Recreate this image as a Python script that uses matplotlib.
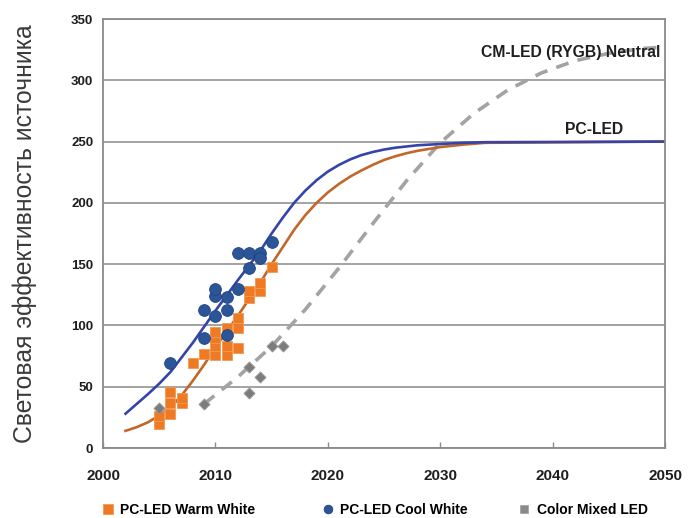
import matplotlib
matplotlib.use("Agg")
import matplotlib.pyplot as plt
from matplotlib.lines import Line2D

plt.rcParams['font.family'] = ['Liberation Sans', 'DejaVu Sans']

# measured points
warm_x = [2005, 2005, 2006, 2006, 2006, 2007, 2007, 2008, 2009, 2010, 2010, 2010,
          2010, 2011, 2011, 2011, 2012, 2012, 2012, 2013, 2013, 2014, 2014, 2015]
warm_y = [20, 26, 28, 37, 46, 37, 41, 69, 77, 76, 83, 90,
          95, 76, 83, 98, 82, 98, 106, 122, 128, 128, 135, 148]

cool_x = [2006, 2009, 2009, 2010, 2010, 2010, 2011, 2011, 2011, 2012, 2012,
          2013, 2013, 2014, 2014, 2015]
cool_y = [69, 90, 113, 108, 124, 130, 92, 113, 123, 130, 159,
          159, 147, 159, 155, 168]

mixed_x = [2005, 2009, 2013, 2013, 2014, 2015, 2016]
mixed_y = [33, 36, 45, 66, 58, 83, 83]

# trend lines
pc_years = [2002, 2003, 2004, 2005, 2006, 2007, 2008, 2009, 2010, 2011,
            2012, 2013, 2014, 2015, 2016, 2017, 2018, 2019, 2020, 2021,
            2022, 2023, 2024, 2025, 2026, 2027, 2028, 2030, 2032, 2034, 2050]
cool_trend = [28, 36, 44, 52.5, 62, 74, 86, 99, 112, 124.5,
              137, 149, 161, 175, 188, 200, 210, 218.5, 225.5, 231,
              235.5, 239, 241.5, 243.5, 245, 246, 247, 248, 249, 249.5, 250]
warm_trend = [14, 17, 21, 26.5, 33, 43, 55, 68, 82, 95,
              108, 121.5, 135, 150, 164, 178, 190, 200, 208.5, 215.5,
              221.5, 226.5, 231, 235, 238, 240.5, 242.5, 245.5, 247.5, 249, 250]

cm_years = [2009, 2012, 2015, 2018, 2021, 2024, 2027, 2030, 2033, 2036,
            2039, 2042, 2045, 2048, 2050]
cm_trend = [36, 58, 83, 113, 147, 183, 218, 249, 273, 292,
            306, 316, 322, 326, 327]

x_ticks = [2000, 2010, 2020, 2030, 2040, 2050]
y_ticks = [0, 50, 100, 150, 200, 250, 300, 350]

legend_labels = ['PC-LED Warm White', 'PC-LED Cool White', 'Color Mixed LED']

fig = plt.figure(figsize=(6.9, 5.18), dpi=100)
ax = fig.add_axes([0.1493, 0.1351, 0.8145, 0.8282])

grid_col = '#8a8a8a'
for v in y_ticks:
    ax.axhline(v, color=grid_col, lw=1.1, zorder=1)

ax.plot(cm_years, cm_trend, color='#a3a3a3', lw=2.6, dashes=(3.6, 2.6),
        zorder=2)
ax.plot(pc_years, warm_trend, color='#c2672a', lw=1.9, zorder=2)
ax.plot(pc_years, cool_trend, color='#3544a8', lw=1.9, zorder=2)

ax.scatter(warm_x, warm_y, marker='s', s=52, color='#ee7a24',
           edgecolors='#f29a55', linewidths=0.6, zorder=3)
ax.scatter(cool_x, cool_y, marker='o', s=72, color='#2c5598',
           edgecolors='#1f4483', linewidths=0.6, zorder=4)
ax.scatter(mixed_x, mixed_y, marker='D', s=32, color='#7c7c7c',
           edgecolors='#9a9a9a', linewidths=0.6, zorder=3)

ax.text(2049.6, 323, 'CM-LED (RYGB) Neutral', ha='right', va='center',
        fontsize=11.3, fontweight='bold', color='#1e1e1e')
ax.text(2046.3, 260, 'PC-LED', ha='right', va='center',
        fontsize=11.3, fontweight='bold', color='#1e1e1e')

ax.set_xlim(2000, 2050)
ax.set_ylim(0, 350)
ax.set_xticks(x_ticks)
ax.set_yticks(y_ticks)
ax.tick_params(axis='x', direction='in', length=4, width=1, color=grid_col,
               pad=15, labelsize=11)
ax.tick_params(axis='y', length=0, pad=7, labelsize=9.5)
for lab in ax.get_xticklabels() + ax.get_yticklabels():
    lab.set_fontweight('bold')
    lab.set_color('#1e1e1e')
for sp in ax.spines.values():
    sp.set_color(grid_col)
    sp.set_linewidth(1.3)

fig.text(0.036, 0.549, 'Световая эффективность источника', rotation=90,
         ha='center', va='center', fontsize=17.8, color='#3a3a3a')

# legend entries placed one by one along the bottom
handles = [
    Line2D([], [], ls='none', marker='s', ms=6.8, color='#ee7a24',
           mec='#f29a55', mew=0.6),
    Line2D([], [], ls='none', marker='o', ms=6.2, color='#2c5598',
           mec='#1f4483', mew=0.6),
    Line2D([], [], ls='none', marker='s', ms=6.2, color='#8a8a8a',
           mec='#a5a5a5', mew=0.6),
]
for handle, label, x0 in zip(handles, legend_labels, [0.1384, 0.4572, 0.742]):
    fig.legend([handle], [label], loc='center left',
               bbox_to_anchor=(x0, 0.0154), frameon=False, borderpad=0,
               handlelength=0.8, handletextpad=0.5,
               prop={'weight': 'bold', 'size': 10})

fig.savefig('out.png', dpi=100)
